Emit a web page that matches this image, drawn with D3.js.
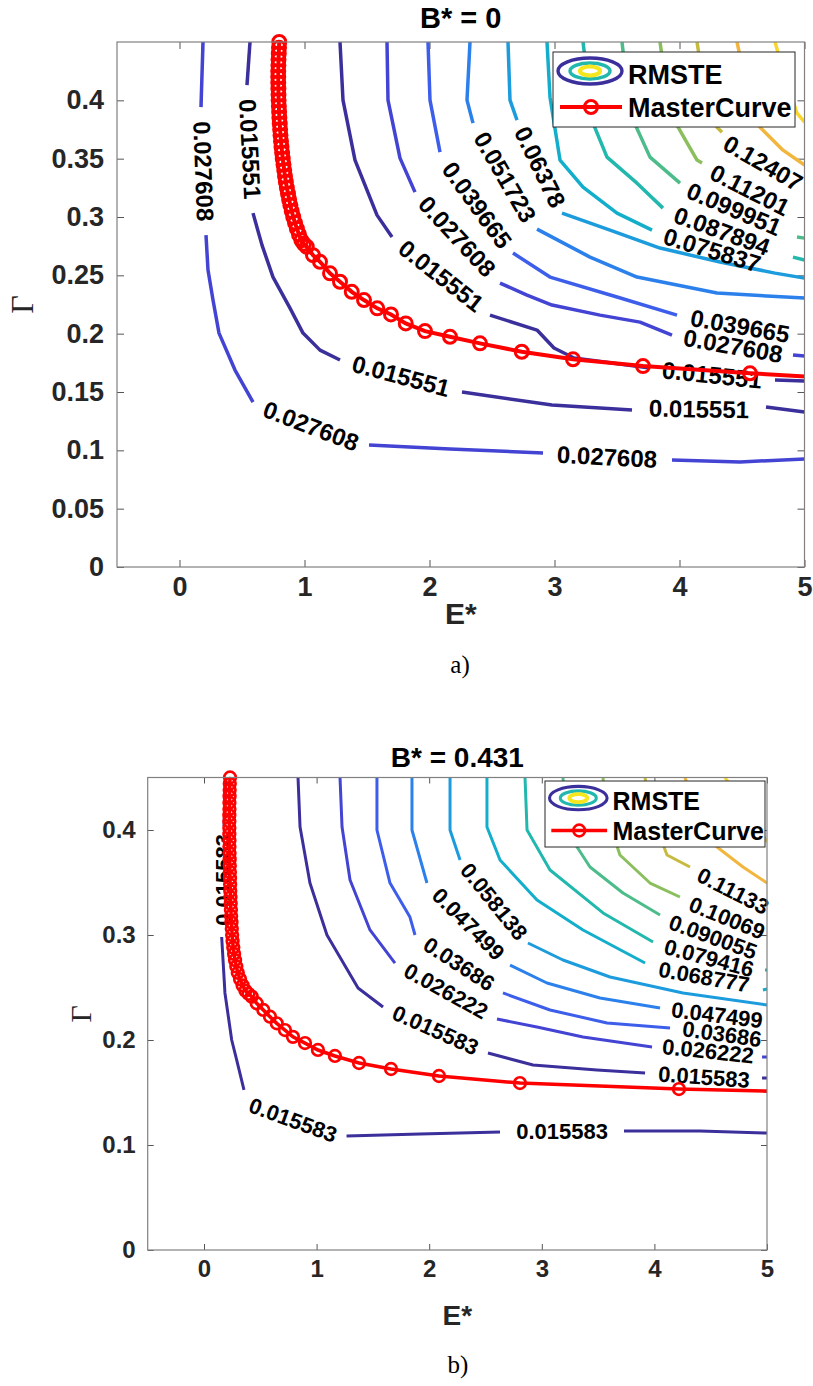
<!DOCTYPE html>
<html>
<head>
<meta charset="utf-8">
<script src="https://cdn.jsdelivr.net/npm/d3@7"></script>
<style>
  body { margin: 0; background: #fff; }
</style>
</head>
<body>
<svg id="fig" width="813" height="1386"></svg>
<script>
// ---------- data ----------
const eTicks = [0, 1, 2, 3, 4, 5];
const gammaTicksA = [0, 0.05, 0.1, 0.15, 0.2, 0.25, 0.3, 0.35, 0.4];
const gammaTicksB = [0, 0.1, 0.2, 0.3, 0.4];

const levelsA = [0.015551, 0.027608, 0.039665, 0.051723, 0.06378, 0.075837,
                 0.087894, 0.099951, 0.11201, 0.12407, 0.13613, 0.14818];
const levelsB = [0.015583, 0.026222, 0.03686, 0.047499, 0.058138, 0.068777,
                 0.079416, 0.090055, 0.10069, 0.11133, 0.12197, 0.13261];

// contour lines: [level, [segment, segment, ...]], segment = [[E*, Gamma], ...]
const contoursA = [
  [0.015551, [
    [[0.564, 0.45], [0.54, 0.413]],
    [[0.588, 0.3033], [0.66, 0.2759], [0.748, 0.2485], [0.884, 0.2219], [0.988, 0.2005], [1.124, 0.1859], [1.284, 0.1774]],
    [[2.26, 0.15], [2.98, 0.1388], [3.62, 0.1345]],
    [[4.692, 0.1371], [5.0, 0.1328]]
  ]],
  [0.015551, [
    [[1.284, 0.45], [1.308, 0.4002], [1.404, 0.3488], [1.58, 0.3016], [1.70, 0.2828]],
    [[2.484, 0.2159], [2.86, 0.2031], [2.996, 0.1877], [3.156, 0.1791], [3.764, 0.1705]],
    [[4.764, 0.1602], [5.0, 0.1594]]
  ]],
  [0.027608, [
    [[0.188, 0.45], [0.172, 0.3942]],
    [[0.212, 0.2845], [0.228, 0.2545], [0.268, 0.2288], [0.316, 0.2005], [0.444, 0.1688], [0.588, 0.1414]],
    [[1.516, 0.1045], [2.164, 0.1011], [2.908, 0.0977]],
    [[3.94, 0.0917], [4.484, 0.09], [5.0, 0.0926]]
  ]],
  [0.027608, [
    [[1.66, 0.45], [1.668, 0.4002], [1.764, 0.3505], [1.884, 0.3213]],
    [[2.564, 0.2434], [2.78, 0.2331], [2.98, 0.2245], [3.364, 0.2159], [3.684, 0.2099], [3.94, 0.1988]],
    [[4.908, 0.1817], [5.0, 0.1808]]
  ]],
  [0.039665, [
    [[1.988, 0.45], [2.004, 0.4002], [2.084, 0.3556]],
    [[2.668, 0.2691], [2.964, 0.2485], [3.50, 0.2314], [3.98, 0.2159]]
  ]],
  [0.051723, [
    [[2.324, 0.45], [2.30, 0.4002], [2.348, 0.3805]],
    [[2.86, 0.2896], [3.284, 0.2656], [3.66, 0.2485], [4.30, 0.2348], [5.0, 0.2305]]
  ]],
  [0.06378, [
    [[2.628, 0.45], [2.644, 0.4002], [2.70, 0.383]],
    [[3.06, 0.3033], [3.444, 0.2888], [3.844, 0.2734], [4.324, 0.2614], [4.764, 0.2519], [5.0, 0.2476]]
  ]],
  [0.075837, [
    [[2.94, 0.45], [2.964, 0.4027], [3.044, 0.3488], [3.228, 0.3256], [3.50, 0.3033], [3.78, 0.2888]]
  ]],
  [0.087894, [
    [[3.228, 0.45], [3.308, 0.3805], [3.42, 0.3513], [3.66, 0.329], [3.868, 0.3076]],
    [[4.908, 0.2656], [5.0, 0.2631]]
  ]],
  [0.099951, [
    [[3.54, 0.45], [3.604, 0.389], [3.764, 0.3513], [4.004, 0.329]],
    [[4.94, 0.2828], [5.0, 0.2819]]
  ]],
  [0.11201, [
    [[3.844, 0.45], [3.924, 0.389], [4.14, 0.3488], [4.18, 0.3462]]
  ]],
  [0.12407, [
    [[4.14, 0.45], [4.188, 0.4173], [4.30, 0.377], [4.34, 0.3727]]
  ]],
  [0.13613, [
    [[4.46, 0.45], [4.508, 0.4259], [4.644, 0.377], [4.828, 0.3573], [5.0, 0.3445]]
  ]],
  [0.14818, [
    [[4.764, 0.45], [4.828, 0.4259], [4.94, 0.389], [5.0, 0.3813]]
  ]]
];

// contour labels: [level, E*, Gamma, text angle in degrees]
const labelsA = [
  [0.015551, 0.564, 0.3582, 87], [0.027608, 0.192, 0.3393, 88],
  [0.015551, 1.772, 0.1637, 15], [0.015551, 4.156, 0.1354, 1],
  [0.027608, 1.052, 0.1208, 21], [0.027608, 3.42, 0.0943, 3],
  [0.015551, 2.092, 0.2494, 38], [0.015551, 4.26, 0.1645, 6],
  [0.027608, 2.22, 0.2833, 47], [0.027608, 4.428, 0.1894, 10],
  [0.039665, 2.38, 0.3102, 54], [0.039665, 4.484, 0.2065, 10],
  [0.051723, 2.604, 0.3342, 60], [0.06378, 2.884, 0.3428, 64],
  [0.075837, 4.26, 0.2716, 17], [0.087894, 4.34, 0.2879, 20],
  [0.099951, 4.436, 0.3068, 23], [0.11201, 4.564, 0.3231, 27],
  [0.12407, 4.668, 0.3462, 30]
];

const masterA = [
  [0.798, 0.45], [0.796, 0.445], [0.794, 0.44], [0.792, 0.435], [0.791, 0.43], [0.79, 0.425],
  [0.79, 0.42], [0.79, 0.415], [0.791, 0.41], [0.792, 0.405], [0.793, 0.4], [0.795, 0.395],
  [0.797, 0.39], [0.799, 0.385], [0.802, 0.38], [0.805, 0.375], [0.808, 0.37], [0.812, 0.365],
  [0.816, 0.36], [0.821, 0.355], [0.826, 0.35], [0.832, 0.345], [0.838, 0.34], [0.844, 0.335],
  [0.851, 0.33], [0.859, 0.325], [0.868, 0.32], [0.877, 0.315], [0.887, 0.31], [0.898, 0.305],
  [0.91, 0.3], [0.924, 0.295], [0.939, 0.29], [0.956, 0.285], [0.975, 0.28], [0.995, 0.277],
  [1.018, 0.2745], [1.068, 0.2673], [1.124, 0.2616], [1.204, 0.2517], [1.284, 0.2445],
  [1.378, 0.2359], [1.476, 0.2288], [1.582, 0.2217], [1.692, 0.2165], [1.81, 0.2088],
  [1.964, 0.2022], [2.164, 0.1973], [2.404, 0.1917], [2.738, 0.1845], [3.148, 0.178],
  [3.708, 0.1722], [4.564, 0.166], [5.9, 0.158]
];

const contoursB = [
  [0.015583, [
    [[0.195, 0.45], [0.178, 0.4038]],
    [[0.157, 0.2981], [0.186, 0.2448], [0.246, 0.2], [0.29, 0.181], [0.355, 0.1524]],
    [[1.266, 0.1086], [1.918, 0.1105], [2.629, 0.1124]],
    [[3.73, 0.1133], [4.405, 0.1133], [5.0, 0.1114]]
  ]],
  [0.015583, [
    [[0.835, 0.45], [0.853, 0.4029], [0.941, 0.3495], [1.092, 0.3], [1.368, 0.2495], [1.59, 0.2314]],
    [[2.522, 0.1876], [2.922, 0.1762], [3.49, 0.1714], [3.917, 0.1686]],
    [[4.956, 0.1638], [5.0, 0.1638]]
  ]],
  [0.026222, [
    [[1.208, 0.45], [1.226, 0.4029], [1.297, 0.3524], [1.474, 0.3048], [1.696, 0.2733]],
    [[2.602, 0.22], [2.957, 0.2124], [3.366, 0.2029], [3.979, 0.1933]],
    [[4.956, 0.1838], [5.0, 0.1838]]
  ]],
  [0.03686, [
    [[1.536, 0.45], [1.536, 0.4], [1.652, 0.3495], [1.829, 0.3171], [1.874, 0.3]],
    [[2.655, 0.2448], [3.073, 0.2286], [3.579, 0.2162], [4.139, 0.2114]]
  ]],
  [0.047499, [
    [[1.847, 0.45], [1.847, 0.4], [1.98, 0.3495]],
    [[2.718, 0.2714], [3.046, 0.2543], [3.517, 0.24], [4.05, 0.2305]]
  ]],
  [0.058138, [
    [[2.185, 0.45], [2.185, 0.4], [2.274, 0.3714]],
    [[2.877, 0.2924], [3.188, 0.2762], [3.606, 0.26], [4.254, 0.2448], [5.0, 0.2333]]
  ]],
  [0.068777, [
    [[2.513, 0.45], [2.513, 0.4029], [2.629, 0.3714], [2.957, 0.3333], [3.366, 0.3048], [3.917, 0.2733]],
    [[4.964, 0.2476], [5.0, 0.2486]]
  ]],
  [0.079416, [
    [[2.851, 0.45], [2.869, 0.4], [3.073, 0.3619], [3.544, 0.321], [3.988, 0.2933]],
    [[4.982, 0.2667], [5.0, 0.2667]]
  ]],
  [0.090055, [
    [[3.188, 0.45], [3.206, 0.419], [3.313, 0.3838], [3.428, 0.3648], [3.721, 0.34], [4.05, 0.319]]
  ]],
  [0.10069, [
    [[3.544, 0.45], [3.561, 0.419], [3.694, 0.3762], [3.961, 0.3495], [4.227, 0.3362]]
  ]],
  [0.11133, [
    [[3.917, 0.45], [3.961, 0.419], [4.112, 0.3762], [4.316, 0.3648]]
  ]],
  [0.12197, [
    [[4.272, 0.45], [4.361, 0.419], [4.556, 0.3838], [4.787, 0.3648], [5.0, 0.3495]]
  ]],
  [0.13261, [
    [[4.627, 0.45], [4.805, 0.4238], [5.0, 0.3886]]
  ]]
];

const labelsB = [
  [0.015583, 0.169, 0.3524, -90], [0.015583, 0.79, 0.1238, 20],
  [0.015583, 3.18, 0.1133, 0], [0.015583, 2.056, 0.2095, 24],
  [0.015583, 4.44, 0.1648, 4], [0.026222, 2.149, 0.2467, 29],
  [0.026222, 4.476, 0.1895, 6], [0.03686, 2.265, 0.2724, 33],
  [0.03686, 4.6, 0.2057, 8], [0.047499, 2.349, 0.3105, 45],
  [0.047499, 4.556, 0.2238, 7], [0.058138, 2.575, 0.3319, 51],
  [0.068777, 4.44, 0.26, 10], [0.079416, 4.485, 0.2781, 15],
  [0.090055, 4.52, 0.2981, 20], [0.10069, 4.645, 0.3162, 22],
  [0.11133, 4.698, 0.3419, 27]
];

const masterB = [
  [0.231, 0.45], [0.229, 0.444], [0.228, 0.438], [0.227, 0.432], [0.226, 0.426], [0.226, 0.42],
  [0.225, 0.414], [0.225, 0.408], [0.225, 0.402], [0.225, 0.396], [0.226, 0.39], [0.226, 0.384],
  [0.227, 0.378], [0.228, 0.372], [0.229, 0.366], [0.23, 0.36], [0.231, 0.354], [0.232, 0.348],
  [0.233, 0.342], [0.235, 0.336], [0.237, 0.33], [0.239, 0.324], [0.241, 0.318], [0.244, 0.312],
  [0.247, 0.306], [0.25, 0.3], [0.254, 0.294], [0.26, 0.288], [0.267, 0.282], [0.276, 0.276],
  [0.287, 0.27], [0.3, 0.264], [0.32, 0.258], [0.343, 0.252], [0.368, 0.247], [0.395, 0.244],
  [0.424, 0.2413], [0.468, 0.235], [0.527, 0.2286], [0.586, 0.2222], [0.646, 0.2159],
  [0.719, 0.2095], [0.79, 0.203], [0.897, 0.1971], [1.012, 0.1905], [1.163, 0.1848],
  [1.377, 0.1781], [1.661, 0.1724], [2.087, 0.1657], [2.806, 0.159], [4.218, 0.1533], [6.3, 0.148]
];

// ---------- style ----------
const SANS = '"Liberation Sans", Arial, Helvetica, sans-serif';
const SERIF = '"Liberation Serif", "Times New Roman", serif';
// parula-like colour stops, one per contour step
const parula = ["#35208a", "#3b2f9c", "#4343d4", "#3d5eea", "#2b80ec", "#1c9bdd", "#12aecc",
                "#22b8ad", "#4cbd8a", "#8bbf5e", "#c6bb3e", "#f2b63f", "#f8d62d", "#f9fb15"];

const svg = d3.select("#fig");

function drawPanel(p) {
  const x = d3.scaleLinear().domain([-0.5, 5]).range([p.left, p.left + p.w]);
  const y = d3.scaleLinear().domain([0, 0.45]).range([p.top + p.h, p.top]);
  const step = p.levels[1] - p.levels[0];
  const color = d3.scaleLinear()
      .domain(parula.map((c, i) => p.levels[0] + (i - 1) * step))
      .range(parula);

  const g = svg.append("g");
  g.append("clipPath").attr("id", "clip" + p.id)
    .append("rect")
      .attr("x", p.left).attr("y", p.top)
      .attr("width", p.w).attr("height", p.h);

  // axes with inward ticks on all four sides
  const fmt = d => String(+d.toFixed(2));
  const axes = [
    [d3.axisBottom(x).tickValues(eTicks).tickFormat(fmt).tickPadding(p.padX), `translate(0,${p.top + p.h})`],
    [d3.axisLeft(y).tickValues(p.yTicks).tickFormat(fmt).tickPadding(p.padY), `translate(${p.left},0)`],
    [d3.axisTop(x).tickValues(eTicks).tickFormat(""), `translate(0,${p.top})`],
    [d3.axisRight(y).tickValues(p.yTicks).tickFormat(""), `translate(${p.left + p.w},0)`]
  ];
  axes.forEach(([ax, tr]) => {
    const a = g.append("g").attr("transform", tr)
        .call(ax.tickSize(-p.tickLen))
        .attr("font-family", SANS)
        .attr("font-size", p.fs.tick)
        .attr("font-weight", "bold");
    a.select(".domain").remove();
    a.selectAll(".tick line").attr("stroke", "#555").attr("stroke-width", 1);
    a.selectAll(".tick text").attr("fill", "#262626");
  });

  const line = d3.line().x(d => x(d[0])).y(d => y(d[1]));

  // contour lines
  const segs = [];
  p.contours.forEach(([lev, parts]) => parts.forEach(s => segs.push({lev, s})));
  g.append("g").attr("clip-path", `url(#clip${p.id})`)
    .selectAll("path")
    .data(segs)
    .join("path")
      .attr("d", d => line(d.s))
      .attr("fill", "none")
      .attr("stroke", d => color(d.lev))
      .attr("stroke-width", p.lw)
      .attr("stroke-linejoin", "round")
      .attr("stroke-linecap", "butt");

  // contour labels
  g.append("g")
    .selectAll("text")
    .data(p.labels)
    .join("text")
      .attr("transform", d => `translate(${x(d[1])},${y(d[2])}) rotate(${d[3]})`)
      .attr("text-anchor", "middle")
      .attr("dy", "0.35em")
      .attr("font-family", SANS)
      .attr("font-weight", "bold")
      .attr("font-size", p.fs.clabel)
      .attr("fill", "#000")
      .text(d => String(d[0]));

  // master curve
  g.append("path")
    .attr("clip-path", `url(#clip${p.id})`)
    .attr("d", line(p.master))
    .attr("fill", "none")
    .attr("stroke", "#ff0000")
    .attr("stroke-width", p.rw);
  g.append("g")
    .selectAll("circle")
    .data(p.master.filter(d => d[0] <= 5 && d[1] <= 0.45))
    .join("circle")
      .attr("cx", d => x(d[0]))
      .attr("cy", d => y(d[1]))
      .attr("r", p.mr)
      .attr("fill", "none")
      .attr("stroke", "#ff0000")
      .attr("stroke-width", p.mw);

  // frame
  g.append("rect")
    .attr("x", p.left).attr("y", p.top)
    .attr("width", p.w).attr("height", p.h)
    .attr("fill", "none")
    .attr("stroke", "#808080")
    .attr("stroke-width", 1.2);

  // legend
  const L = p.legend, k = L.k;
  const lg = g.append("g").attr("transform", `translate(${L.x},${L.y})`);
  lg.append("rect").attr("width", L.w).attr("height", L.h)
    .attr("fill", "#fff").attr("stroke", "#262626").attr("stroke-width", 1);
  const ecx = 37 * k, ecy = 19 * k;
  [[32, 13, color(p.levels[0]), 3.4], [20, 8, color(p.levels[6]), 3.4], [10, 4.5, "#f5e61e", 4.2]]
    .forEach(([rx, ry, c, sw]) => lg.append("ellipse")
      .attr("cx", ecx).attr("cy", ecy).attr("rx", rx * k).attr("ry", ry * k)
      .attr("fill", "none").attr("stroke", c).attr("stroke-width", sw * k));
  lg.append("line")
    .attr("x1", 7 * k).attr("x2", 69 * k).attr("y1", 55 * k).attr("y2", 55 * k)
    .attr("stroke", "#ff0000").attr("stroke-width", p.rw);
  lg.append("circle").attr("cx", 38 * k).attr("cy", 55 * k).attr("r", p.mr)
    .attr("fill", "none").attr("stroke", "#ff0000").attr("stroke-width", p.mw);
  lg.selectAll(".lt").data(["RMSTE", "MasterCurve"]).join("text")
    .attr("x", 75 * k)
    .attr("y", (d, i) => (i ? 65 : 32) * k)
    .attr("font-family", SANS).attr("font-weight", "bold")
    .attr("font-size", p.fs.legend).attr("fill", "#000")
    .text(d => d);

  // titles and axis labels
  const cx = p.left + p.w / 2;
  g.append("text").attr("x", cx).attr("y", p.titleY)
    .attr("text-anchor", "middle").attr("font-family", SANS).attr("font-weight", "bold")
    .attr("font-size", p.fs.title).attr("fill", "#000").text(p.title);
  g.append("text").attr("x", cx).attr("y", p.xlabY)
    .attr("text-anchor", "middle").attr("font-family", SANS).attr("font-weight", "bold")
    .attr("font-size", p.fs.axis).attr("fill", "#262626").text("E*");
  g.append("text")
    .attr("transform", `translate(${p.gammaX},${p.top + p.h / 2}) rotate(-90)`)
    .attr("text-anchor", "middle").attr("dy", "0.35em")
    .attr("font-family", SERIF).attr("font-size", p.fs.gamma).attr("fill", "#262626").text("Γ");
  g.append("text").attr("x", p.tagX).attr("y", p.tagY)
    .attr("text-anchor", "middle").attr("font-family", SERIF)
    .attr("font-size", p.fs.tag).attr("fill", "#000").text(p.tag);
}

drawPanel({
  id: "a", title: "B* = 0", tag: "a)",
  left: 117, top: 42, w: 687.5, h: 525,
  yTicks: gammaTicksA, levels: levelsA, contours: contoursA, labels: labelsA, master: masterA,
  fs: {tick: 27, title: 29, axis: 30, clabel: 24, legend: 27, gamma: 32, tag: 25},
  lw: 3.5, rw: 4, mr: 6.5, mw: 3, tickLen: 7, padX: 10, padY: 13,
  legend: {x: 553, y: 52, w: 242, h: 75, k: 1},
  titleY: 28, xlabY: 624, gammaX: 22, tagX: 460, tagY: 673
});

drawPanel({
  id: "b", title: "B* = 0.431", tag: "b)",
  left: 147.7, top: 777.5, w: 619.3, h: 472.5,
  yTicks: gammaTicksB, levels: levelsB, contours: contoursB, labels: labelsB, master: masterB,
  fs: {tick: 24, title: 28, axis: 28, clabel: 22, legend: 25, gamma: 30, tag: 25},
  lw: 3, rw: 3.6, mr: 5.8, mw: 2.7, tickLen: 6, padX: 10, padY: 12,
  legend: {x: 545, y: 781, w: 220, h: 66, k: 0.9},
  titleY: 767, xlabY: 1325, gammaX: 80, tagX: 458, tagY: 1373
});
</script>
</body>
</html>
